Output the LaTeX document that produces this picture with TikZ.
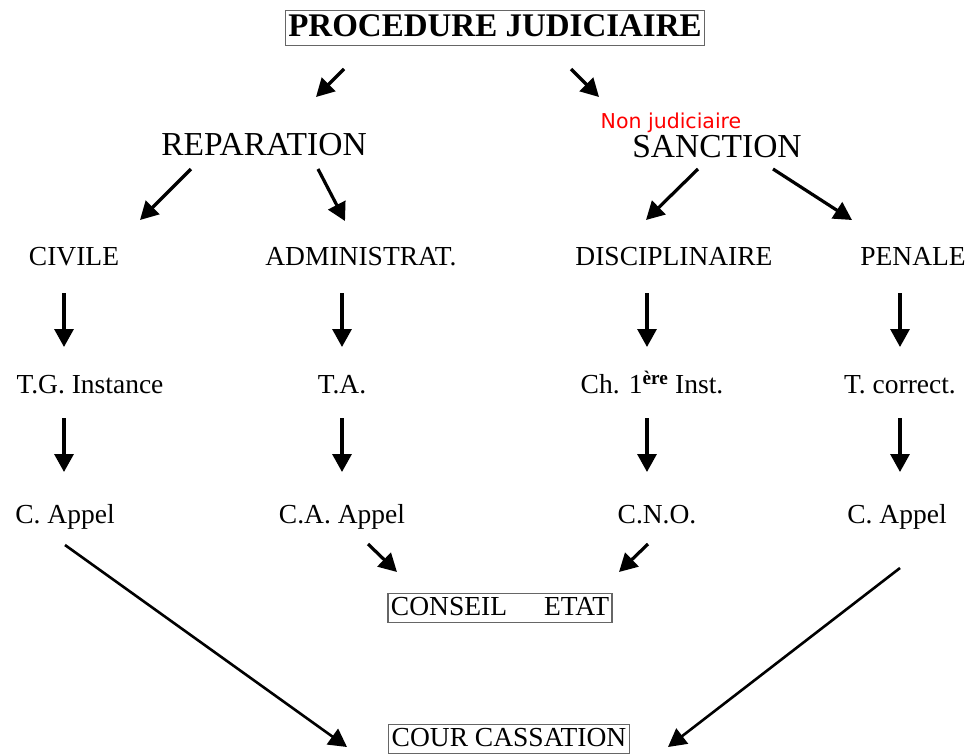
\documentclass[tikz,border=0pt]{standalone}
\usepackage{fontspec}
\setmainfont{Liberation Serif}
\newfontfamily\redsans{DejaVu Sans}
\usetikzlibrary{arrows.meta}
\begin{document}
\begin{tikzpicture}[x=1pt,y=-1pt,
  lbl/.style={font=\fontsize{27.5}{30}\selectfont, inner sep=0pt, anchor=center, text height=24.5pt, text depth=6pt},
  big/.style={font=\fontsize{33.5}{36}\selectfont, inner sep=0pt, anchor=center, text height=29pt, text depth=7pt},
  boxed/.style={draw=black!60, line width=1.2pt, inner xsep=3pt, inner ysep=1.5pt, text height=20pt, text depth=6pt},
  arr/.style={line width=3.2pt, -{Triangle[length=18pt,width=19pt]}}]
\useasboundingbox[fill=white] (0,0) rectangle (969,753);
% titles
\node[big, boxed, font=\fontsize{33}{36}\selectfont\bfseries, text height=24pt, text depth=8pt] (title) at (495,28) {PROCEDURE JUDICIAIRE};
\node[big] (rep) at (264,144) {REPARATION};
\node[big] (san) at (717,146) {SANCTION};
\node[inner sep=0pt, text=red, font=\redsans\fontsize{20.5}{22}\selectfont] (nonj) at (671,123) {Non judiciaire};
% row 3
\node[lbl] (civ) at (74,256) {CIVILE};
\node[lbl] (adm) at (361,256) {ADMINISTRAT.};
\node[lbl] (dis) at (674,256) {DISCIPLINAIRE};
\node[lbl] (pen) at (913,256) {PENALE};
% row 4
\node[lbl] (tgi) at (90,384) {T.G. Instance};
\node[lbl] (ta) at (342,384) {T.A.};
\node[lbl] (ch) at (652,384) {Ch. 1\textsuperscript{\bfseries ère} Inst.};
\node[lbl] (tco) at (900,384) {T. correct.};
% row 5
\node[lbl] (ca1) at (65,514) {C. Appel};
\node[lbl] (caa) at (342,514) {C.A. Appel};
\node[lbl] (cno) at (657,514) {C.N.O.};
\node[lbl] (ca2) at (897,514) {C. Appel};
% boxes
\node[lbl, boxed] (ce) at (500,608) {CONSEIL\hspace{37pt}ETAT};
\node[lbl, boxed] (cc) at (509,739) {COUR CASSATION};
% arrow endpoints
\coordinate (a1s) at (344,69); \coordinate (a1e) at (316,97);
\coordinate (a2s) at (571,69); \coordinate (a2e) at (599,97);
\coordinate (b1s) at (191,169); \coordinate (b1e) at (140,220);
\coordinate (b2s) at (318,169); \coordinate (b2e) at (345,221);
\coordinate (b3s) at (698,169); \coordinate (b3e) at (646,220);
\coordinate (b4s) at (773,169); \coordinate (b4e) at (852,220);
\foreach \n/\x in {c/64, d/342, e/647, f/900}{
  \coordinate (\n1s) at (\x,293); \coordinate (\n1e) at (\x,347);
  \coordinate (\n2s) at (\x,418); \coordinate (\n2e) at (\x,472);
}
\coordinate (g1s) at (368,544); \coordinate (g1e) at (397,572);
\coordinate (g2s) at (648,544); \coordinate (g2e) at (619,572);
\coordinate (h1s) at (65,545); \coordinate (h1e) at (347,747);
\coordinate (h2s) at (900,568); \coordinate (h2e) at (668,747);
\foreach \a in {a1,a2,b1,b2,b3,b4,c1,c2,d1,d2,e1,e2,f1,f2,g1,g2}{
  \draw[arr] (\a s) -- (\a e);
}
\draw[arr, line width=2.6pt] (h1s) -- (h1e);
\draw[arr, line width=2.6pt] (h2s) -- (h2e);
\end{tikzpicture}
\end{document}
